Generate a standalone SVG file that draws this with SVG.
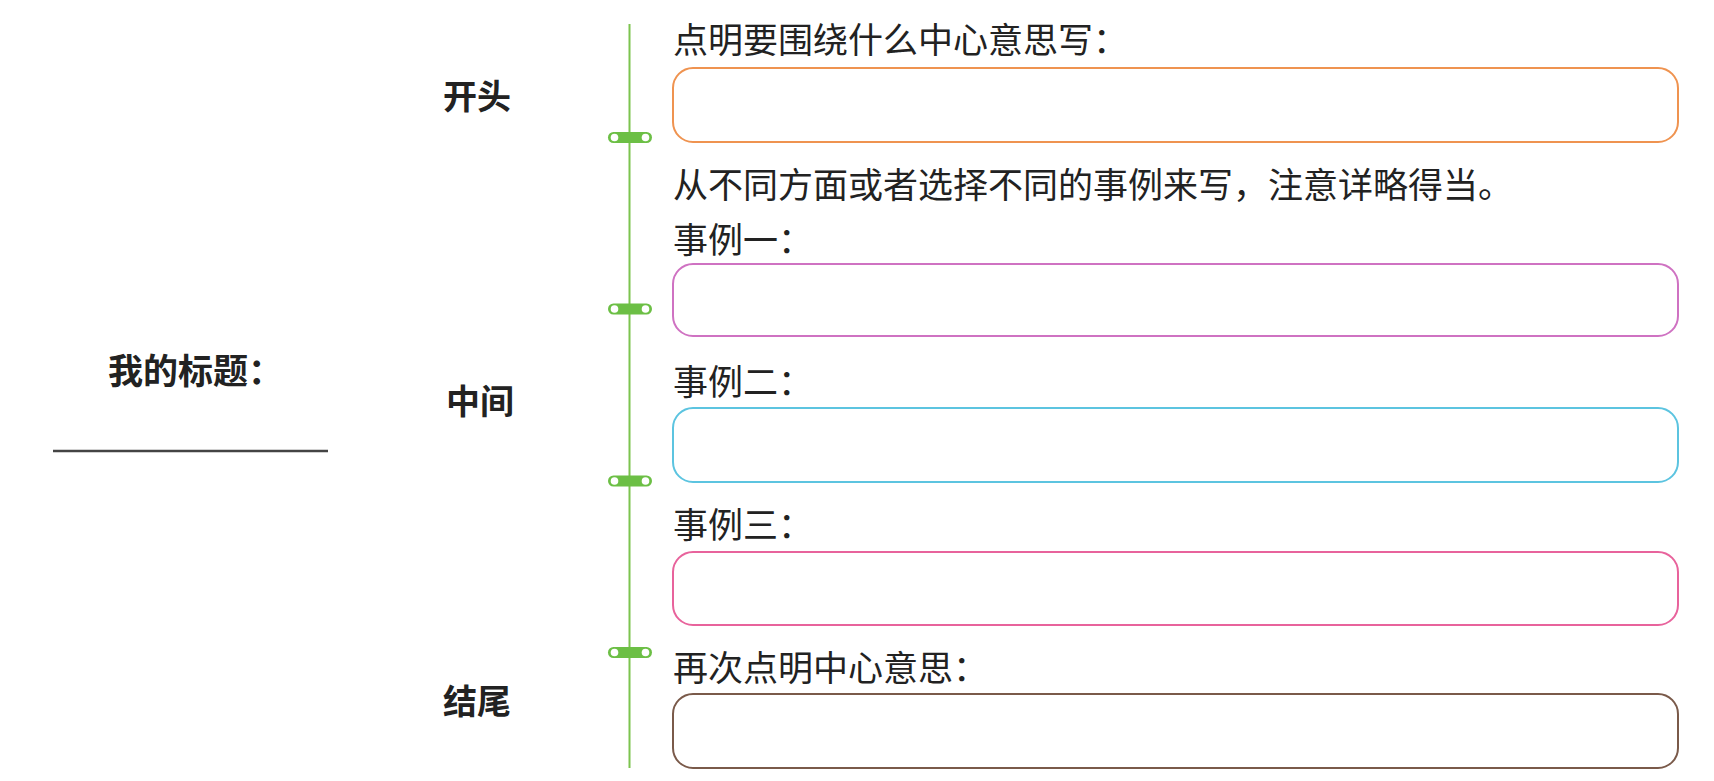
<svg xmlns="http://www.w3.org/2000/svg" width="1714" height="781" viewBox="0 0 1714 781">
<style>
.t{font-family:"Noto Sans CJK SC","Noto Sans CJK JP",sans-serif;font-size:35px;fill:#222}
.b{font-family:"Noto Sans CJK SC","Noto Sans CJK JP",sans-serif;font-size:34px;font-weight:bold;fill:#222}
.box{fill:none;stroke-width:2}
.pill{fill:#6cbf45}
.hole{fill:#fff}
</style>
<rect width="1714" height="781" fill="#fff"/>
<g id="title">
<text class="b" x="108" y="384" style="font-size:35px">我的标题：</text>
<line x1="53" y1="451" x2="328" y2="451" stroke="#444" stroke-width="2.5"/>
</g>
<g id="label-start"><text class="b" x="443" y="109">开头</text></g>
<g id="label-middle"><text class="b" x="446" y="414">中间</text></g>
<g id="label-end"><text class="b" x="443" y="714">结尾</text></g>
<g id="connectors">
<line x1="629.5" y1="24" x2="629.5" y2="768" stroke="#7cc44f" stroke-width="2"/>
<g><rect class="pill" x="608" y="132" width="44" height="11" rx="5.5"/><circle class="hole" cx="614.5" cy="137.5" r="3.8"/><circle class="hole" cx="645.5" cy="137.5" r="3.8"/></g>
<g><rect class="pill" x="608" y="303.5" width="44" height="11" rx="5.5"/><circle class="hole" cx="614.5" cy="309" r="3.8"/><circle class="hole" cx="645.5" cy="309" r="3.8"/></g>
<g><rect class="pill" x="608" y="475.5" width="44" height="11" rx="5.5"/><circle class="hole" cx="614.5" cy="481" r="3.8"/><circle class="hole" cx="645.5" cy="481" r="3.8"/></g>
<g><rect class="pill" x="608" y="647" width="44" height="11" rx="5.5"/><circle class="hole" cx="614.5" cy="652.5" r="3.8"/><circle class="hole" cx="645.5" cy="652.5" r="3.8"/></g>
</g>
<g id="start">
<text class="t" x="673" y="53">点明要围绕什么中心意思写：</text>
<rect class="box" x="673" y="68" width="1005" height="74" rx="20" stroke="#ef9350"/>
</g>
<g id="middle-intro">
<text class="t" x="673" y="198">从不同方面或者选择不同的事例来写，注意详略得当。</text>
</g>
<g id="case1">
<text class="t" x="673" y="253">事例一：</text>
<rect class="box" x="673" y="264" width="1005" height="72" rx="20" stroke="#cf72c2"/>
</g>
<g id="case2">
<text class="t" x="673" y="395">事例二：</text>
<rect class="box" x="673" y="408" width="1005" height="74" rx="20" stroke="#5cc4e0"/>
</g>
<g id="case3">
<text class="t" x="673" y="538">事例三：</text>
<rect class="box" x="673" y="552" width="1005" height="73" rx="20" stroke="#e8639c"/>
</g>
<g id="end">
<text class="t" x="673" y="681">再次点明中心意思：</text>
<rect class="box" x="673" y="694" width="1005" height="74" rx="20" stroke="#7a5a4a"/>
</g>
</svg>
